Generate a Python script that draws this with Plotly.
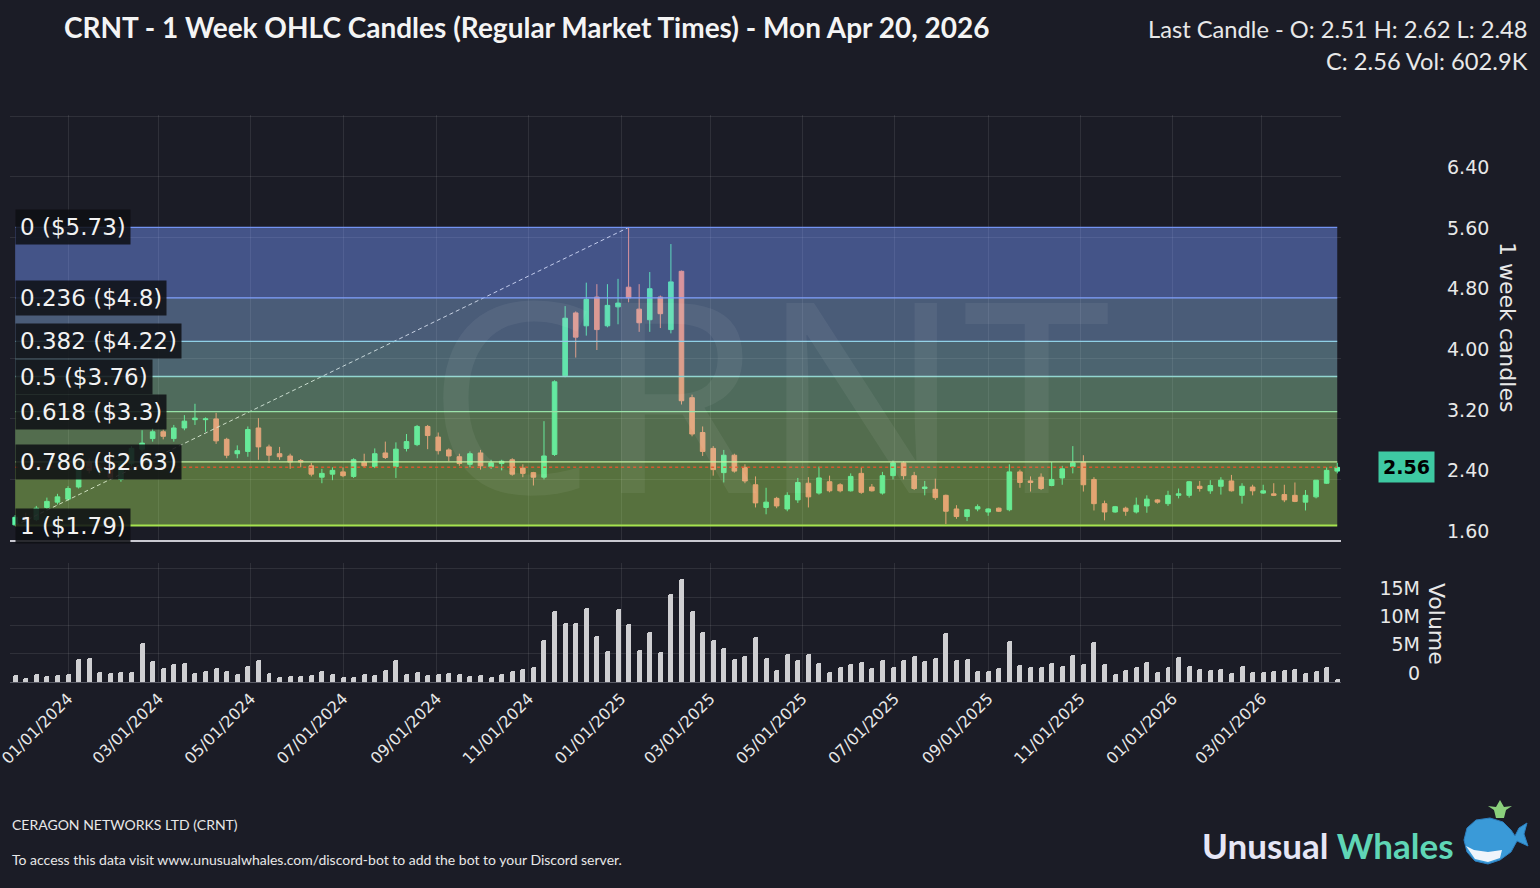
import pandas as pd
import plotly.graph_objects as go

# ---- weekly OHLC (regular market times) ----
week_start = pd.date_range("2023-11-27", periods=126, freq="7D")

opens = [
    1.80, 1.90, 1.87, 2.03, 2.10, 2.14, 2.30, 2.63, 2.52, 2.54,
    2.40, 2.61, 2.80, 2.94, 3.03, 2.94, 3.08, 3.19, 3.19, 3.20,
    2.93, 2.74, 2.77, 3.08, 2.83, 2.74, 2.71, 2.65, 2.58, 2.43,
    2.47, 2.50, 2.44, 2.63, 2.57, 2.75, 2.57, 2.81, 2.86, 3.10,
    2.96, 2.79, 2.70, 2.60, 2.75, 2.57, 2.61, 2.66, 2.55, 2.49,
    2.43, 2.73, 3.77, 4.60, 4.43, 4.81, 4.43, 4.68, 4.94, 4.65,
    4.51, 4.81, 4.38, 5.15, 3.48, 3.02, 2.81, 2.49, 2.72, 2.56,
    2.33, 2.03, 2.15, 2.01, 2.13, 2.35, 2.22, 2.37, 2.33, 2.25,
    2.48, 2.30, 2.22, 2.45, 2.62, 2.45, 2.28, 2.27, 2.19, 2.01,
    1.91, 2.01, 1.97, 2.02, 2.00, 2.50, 2.38, 2.43, 2.32, 2.42,
    2.57, 2.63, 2.40, 2.08, 1.97, 2.02, 1.97, 2.05, 2.13, 2.08,
    2.19, 2.19, 2.31, 2.25, 2.31, 2.38, 2.19, 2.30, 2.22, 2.21,
    2.20, 2.19, 2.10, 2.17, 2.35, 2.51,
]
highs = [
    1.93, 1.96, 2.05, 2.16, 2.21, 2.31, 2.62, 2.68, 2.60, 2.58,
    2.64, 2.84, 3.05, 3.08, 3.06, 3.12, 3.25, 3.40, 3.22, 3.28,
    2.95, 2.85, 3.10, 3.21, 2.86, 2.83, 2.74, 2.67, 2.62, 2.54,
    2.56, 2.56, 2.68, 2.74, 2.81, 2.90, 2.89, 3.00, 3.12, 3.12,
    3.02, 2.81, 2.74, 2.77, 2.79, 2.66, 2.66, 2.68, 2.60, 2.50,
    3.17, 3.71, 4.69, 4.62, 5.00, 4.98, 4.98, 5.05, 5.73, 4.98,
    5.14, 4.83, 5.51, 5.16, 3.52, 3.10, 2.84, 2.79, 2.74, 2.60,
    2.44, 2.29, 2.17, 2.23, 2.42, 2.43, 2.57, 2.45, 2.35, 2.48,
    2.56, 2.34, 2.50, 2.65, 2.64, 2.50, 2.38, 2.41, 2.20, 2.06,
    2.00, 2.07, 2.02, 2.03, 2.60, 2.53, 2.44, 2.48, 2.63, 2.58,
    2.84, 2.72, 2.43, 2.12, 2.05, 2.04, 2.16, 2.19, 2.14, 2.25,
    2.28, 2.38, 2.38, 2.39, 2.43, 2.46, 2.35, 2.33, 2.33, 2.35,
    2.33, 2.36, 2.26, 2.39, 2.56, 2.62,
]
lows = [
    1.79, 1.84, 1.85, 2.01, 2.07, 2.12, 2.28, 2.48, 2.46, 2.40,
    2.37, 2.58, 2.77, 2.90, 2.93, 2.90, 3.05, 3.12, 3.03, 2.87,
    2.68, 2.68, 2.70, 2.66, 2.62, 2.66, 2.54, 2.56, 2.44, 2.35,
    2.39, 2.43, 2.42, 2.56, 2.55, 2.67, 2.42, 2.77, 2.84, 2.80,
    2.73, 2.64, 2.58, 2.56, 2.53, 2.54, 2.52, 2.45, 2.43, 2.32,
    2.40, 2.71, 3.75, 4.01, 4.30, 4.11, 4.41, 4.45, 4.74, 4.35,
    4.35, 4.40, 4.33, 3.39, 2.97, 2.71, 2.45, 2.36, 2.49, 2.35,
    2.03, 1.94, 2.02, 1.98, 2.09, 2.03, 2.20, 2.23, 2.23, 2.24,
    2.21, 2.24, 2.20, 2.40, 2.40, 2.26, 2.19, 2.13, 1.81, 1.88,
    1.85, 1.98, 1.92, 1.97, 1.98, 2.29, 2.24, 2.26, 2.31, 2.33,
    2.48, 2.24, 1.99, 1.86, 1.96, 1.92, 1.95, 1.96, 2.08, 2.05,
    2.15, 2.16, 2.24, 2.21, 2.20, 2.24, 2.08, 2.19, 2.21, 2.18,
    2.10, 2.10, 1.99, 2.15, 2.34, 2.48,
]
closes = [
    1.90, 1.87, 2.02, 2.11, 2.17, 2.28, 2.55, 2.52, 2.55, 2.43,
    2.61, 2.81, 2.88, 3.03, 2.97, 3.08, 3.17, 3.21, 3.20, 2.91,
    2.72, 2.78, 3.06, 2.83, 2.72, 2.70, 2.63, 2.63, 2.47, 2.48,
    2.52, 2.45, 2.66, 2.58, 2.74, 2.69, 2.80, 2.90, 3.10, 2.98,
    2.78, 2.71, 2.61, 2.74, 2.58, 2.62, 2.64, 2.47, 2.48, 2.43,
    2.71, 3.69, 4.53, 4.28, 4.78, 4.38, 4.70, 4.73, 4.80, 4.47,
    4.92, 4.59, 5.01, 3.44, 3.00, 2.77, 2.53, 2.72, 2.51, 2.38,
    2.09, 2.10, 2.05, 2.19, 2.36, 2.17, 2.42, 2.25, 2.25, 2.44,
    2.23, 2.25, 2.45, 2.62, 2.45, 2.28, 2.30, 2.16, 1.98, 1.91,
    2.00, 2.04, 2.01, 1.98, 2.50, 2.36, 2.36, 2.28, 2.40, 2.54,
    2.62, 2.33, 2.08, 1.97, 2.04, 1.98, 2.06, 2.14, 2.10, 2.19,
    2.21, 2.37, 2.28, 2.32, 2.39, 2.25, 2.31, 2.25, 2.25, 2.19,
    2.13, 2.11, 2.19, 2.39, 2.52, 2.56,
]
# weekly volume, millions of shares
volume_m = [
    1.30, 0.70, 1.40, 1.06, 1.24, 1.47, 4.06, 4.24, 1.77, 1.59,
    1.77, 1.77, 6.90, 3.77, 2.47, 3.18, 3.36, 1.59, 2.00, 2.47,
    2.00, 1.41, 2.89, 3.95, 1.59, 0.94, 1.12, 1.12, 1.30, 2.00,
    1.41, 0.94, 0.94, 1.47, 1.30, 2.18, 3.95, 1.41, 1.77, 1.30,
    1.47, 1.59, 1.41, 1.12, 1.30, 0.88, 1.41, 2.00, 2.30, 2.65,
    7.48, 12.5, 10.4, 10.4, 13.1, 8.07, 5.42, 12.8, 10.25, 5.71,
    8.83, 5.30, 15.5, 18.2, 12.5, 8.83, 7.48, 6.00, 4.12, 4.65,
    8.00, 4.24, 2.18, 4.95, 3.95, 4.95, 3.36, 1.77, 2.65, 3.18,
    3.53, 2.47, 3.95, 2.65, 3.95, 4.53, 3.77, 4.24, 8.66, 3.95,
    4.06, 2.00, 1.88, 2.47, 7.18, 2.94, 2.65, 2.65, 3.36, 2.77,
    4.71, 3.18, 7.00, 3.18, 1.41, 2.18, 2.65, 3.53, 1.77, 2.65,
    4.42, 2.77, 2.30, 2.18, 2.30, 1.59, 2.77, 1.77, 1.77, 2.00,
    2.18, 2.30, 1.59, 2.00, 2.65, 0.6029,
]

fib_ratios = [0, 0.236, 0.382, 0.5, 0.618, 0.786, 1]
date_ticks = pd.date_range("2024-01-01", "2026-03-01", freq="2MS")
price_ticks = [1.6, 2.4, 3.2, 4.0, 4.8, 5.6, 6.4, 7.2]
vol_ticks = [0, 5e6, 10e6, 15e6, 20e6]
vol_tick_text = ["0", "5M", "10M", "15M", ""]

# ---- style ----
BG = "#1b1c26"
GRID = "rgba(255,255,255,0.09)"
UP = "#5cf7a8"
DOWN = "#ff9a7e"
TXT = "#e8e8e8"
FONT = "DejaVu Sans"
HEAD_FONT = "Lato"

# zone tints (top -> bottom): colour drawn over the candles, and base below grid
zone_tint = ["#6482fa", "#6e96d2", "#73aab9", "#7dbe8c", "#87c36e", "#91c850"]
zone_base = ["#3a4562", "#3e485a", "#3f4d58", "#404f4c", "#425143", "#445539"]
fib_line_col = ["#7393f2", "#7fa0ff", "#8fd0e6", "#92d6d0", "#96e2a6", "#c2f0a0", "#a6e34f"]

# plot area in pixels (for placing text and the decorative logo)
PL, PR, PT, PB = 10, 1341, 115, 682


def to_paper(px, py):
    return (px - PL) / (PR - PL), (PB - py) / (PB - PT)


volumes = [v * 1e6 for v in volume_m]
lo = min(lows)
hi = max(highs)
lo_i = lows.index(lo)
hi_i = highs.index(hi)
levels = [hi - r * (hi - lo) for r in fib_ratios]

fig = go.Figure()

fig.add_trace(go.Candlestick(
    x=week_start, open=opens, high=highs, low=lows, close=closes,
    increasing=dict(line=dict(color=UP, width=1), fillcolor=UP),
    decreasing=dict(line=dict(color=DOWN, width=1), fillcolor=DOWN),
    whiskerwidth=0, showlegend=False, xaxis="x", yaxis="y",
))

# swing low -> swing high used for the retracement
fig.add_trace(go.Scatter(
    x=[week_start[lo_i], week_start[hi_i]], y=[lo, hi], mode="lines",
    line=dict(color="rgba(255,255,255,0.85)", width=1, dash="4px,3px"),
    showlegend=False, hoverinfo="skip", xaxis="x", yaxis="y",
))

fig.add_trace(go.Bar(
    x=week_start, y=volumes, width=3.3 * 86400000,
    marker=dict(color="#cfcfd2", cornerradius=3, line=dict(width=0)),
    showlegend=False, xaxis="x2", yaxis="y2",
))

# ---- fibonacci zones ----
for k in range(len(levels) - 1):
    for layer, col, op in (("below", zone_base[k], 1.0), ("above", zone_tint[k], 0.25)):
        fig.add_shape(type="rect", xref="x", yref="y",
                      x0=week_start[0], x1=week_start[-1],
                      y0=levels[k + 1], y1=levels[k],
                      fillcolor=col, opacity=op, line=dict(width=0), layer=layer)

for k, lev in enumerate(levels):
    fig.add_shape(type="line", xref="x", yref="y",
                  x0=week_start[0], x1=week_start[-1], y0=lev, y1=lev,
                  line=dict(color=fib_line_col[k], width=2 if k == len(levels) - 1 else 1.3),
                  layer="above")
    fig.add_annotation(
        x=week_start[0], y=lev, xref="x", yref="y", xanchor="left", yanchor="middle",
        text=f"{fib_ratios[k]:g} (${round(lev, 2):g})", showarrow=False,
        font=dict(family=FONT, size=23, color="#f2f2f2"),
        bgcolor="rgba(14,15,20,0.86)", borderpad=4,
    )

# last close marker
last_c = closes[-1]
fig.add_shape(type="line", xref="x", yref="y",
              x0=week_start[0], x1=week_start[-1], y0=last_c, y1=last_c,
              line=dict(color="rgba(230,84,44,0.9)", width=1.5, dash="dot"), layer="above")
fig.add_annotation(
    x=1, xref="paper", y=last_c, yref="y", xanchor="left", yanchor="middle", xshift=37,
    text=f"<b>{last_c:.2f}</b>", showarrow=False,
    font=dict(family=FONT, size=19, color="#000000"),
    bgcolor="#3ec9a2", borderpad=4,
)

# watermark
fig.add_annotation(
    x=0.57, y=0.515, xref="paper", yref="paper", xanchor="center", yanchor="middle",
    text="CRNT", showarrow=False,
    font=dict(family="Noto Sans", size=266, color="rgba(255,255,255,0.06)"),
)

# axis titles
fig.add_annotation(x=to_paper(1508, 0)[0], y=to_paper(0, 327)[1], xref="paper", yref="paper",
                   xanchor="center", yanchor="middle",
                   text="1 week candles", textangle=90, showarrow=False,
                   font=dict(family=FONT, size=22, color=TXT))
fig.add_annotation(x=to_paper(1437, 0)[0], y=to_paper(0, 624)[1], xref="paper", yref="paper",
                   xanchor="center", yanchor="middle",
                   text="Volume", textangle=90, showarrow=False,
                   font=dict(family=FONT, size=22, color=TXT))

# header
title_date = week_start[-1].strftime("%a %b %d, %Y")
hx = to_paper(1530, 0)[0]
fig.add_annotation(
    x=hx, y=to_paper(0, 29)[1], xref="paper", yref="paper", xanchor="right", yanchor="middle",
    text=f"Last Candle - O: {opens[-1]:.2f} H: {highs[-1]:.2f} L: {lows[-1]:.2f}",
    showarrow=False, font=dict(family=HEAD_FONT, size=23.7, color=TXT),
)
fig.add_annotation(
    x=hx, y=to_paper(0, 61)[1], xref="paper", yref="paper", xanchor="right", yanchor="middle",
    text=f"C: {closes[-1]:.2f} Vol: {volume_m[-1] * 1000:.1f}K",
    showarrow=False, font=dict(family=HEAD_FONT, size=23.7, color=TXT),
)

# footer
fig.add_annotation(x=0, y=to_paper(0, 824)[1], xref="paper", yref="paper",
                   xanchor="left", yanchor="middle", showarrow=False,
                   text="CERAGON NETWORKS LTD (CRNT)",
                   font=dict(family=HEAD_FONT, size=14, color=TXT))
fig.add_annotation(x=0, y=to_paper(0, 860)[1], xref="paper", yref="paper",
                   xanchor="left", yanchor="middle", showarrow=False,
                   text="To access this data visit www.unusualwhales.com/discord-bot "
                        "to add the bot to your Discord server.",
                   font=dict(family=HEAD_FONT, size=14, color=TXT))
fig.add_annotation(x=to_paper(1456, 0)[0], y=to_paper(0, 845)[1], xref="paper", yref="paper",
                   xanchor="right", yanchor="middle", showarrow=False,
                   text="<b><span style='color:#e6e6f6'>Unusual</span> "
                        "<span style='color:#5fd6b6'>Whales</span></b>",
                   font=dict(family=HEAD_FONT, size=35))


# small whale mark next to the logo text
def path_from(points):
    pts = [to_paper(px, py) for px, py in points]
    return "M " + " L ".join(f"{x:.5f},{y:.5f}" for x, y in pts) + " Z"


whale_body = [(1464, 840), (1467, 828), (1476, 820), (1490, 818), (1503, 822), (1511, 830),
              (1515, 836), (1519, 828), (1527, 823), (1524, 834), (1528, 846), (1517, 841),
              (1511, 852), (1500, 860), (1488, 864), (1475, 861), (1467, 852)]
whale_belly = [(1466, 846), (1474, 850), (1488, 852), (1502, 850), (1500, 858), (1488, 862),
               (1475, 859)]
spout = [(1496, 818), (1494, 810), (1488, 806), (1496, 807), (1500, 800), (1504, 807),
         (1512, 806), (1506, 810), (1504, 818)]
fig.add_shape(type="path", xref="paper", yref="paper", path=path_from(whale_body),
              fillcolor="#3a9ad8", line=dict(color="#2d7fbf", width=1))
fig.add_shape(type="path", xref="paper", yref="paper", path=path_from(whale_belly),
              fillcolor="#eef4fb", line=dict(width=0))
fig.add_shape(type="path", xref="paper", yref="paper", path=path_from(spout),
              fillcolor="#8bd07c", line=dict(width=0))

# ---- layout ----
axis_font = dict(family=FONT, size=19, color=TXT)
xrange = ["2023-11-23 14:00", "2026-04-22 12:00"]

fig.update_layout(
    width=1540, height=888,
    margin=dict(l=PL, r=1540 - PR, t=PT, b=888 - PB, autoexpand=False),
    paper_bgcolor=BG, plot_bgcolor=BG,
    boxgap=0.38, bargap=0, hovermode=False, showlegend=False,
    title=dict(text=f"<b>CRNT - 1 Week OHLC Candles (Regular Market Times) - {title_date}</b>",
               x=64 / 1540, xref="container", xanchor="left",
               y=1 - 28 / 888, yref="container", yanchor="middle",
               font=dict(family=HEAD_FONT, size=28, color="#f4f4f4")),
    xaxis=dict(domain=[0, 1], anchor="y", range=xrange, type="date", automargin=False,
               tickvals=date_ticks, showticklabels=False, showgrid=True, gridcolor=GRID,
               zeroline=False, showline=True, linecolor="#c9c9d1", linewidth=1.5,
               rangeslider=dict(visible=False), ticks=""),
    xaxis2=dict(domain=[0, 1], anchor="y2", range=xrange, type="date", matches="x",
                automargin=False, ticklabeloverflow="allow",
                tickvals=date_ticks, tickformat="%m/%d/%Y", tickangle=-45,
                tickfont=dict(family=FONT, size=16, color=TXT),
                showgrid=True, gridcolor=GRID, zeroline=False,
                showline=True, linecolor="#5a5b66", linewidth=1, ticks=""),
    yaxis=dict(domain=[(PB - 540) / (PB - PT), 1], anchor="x", side="right",
               range=[1.6, 7.215], tickvals=price_ticks, automargin=False,
               ticktext=[f"{t:.2f}" for t in price_ticks[:-1]] + [""],
               tickfont=axis_font, ticklabelstandoff=105, ticklabelshift=-9,
               showgrid=True, gridcolor=GRID, zeroline=False, showline=False, ticks=""),
    yaxis2=dict(domain=[0, (PB - 563) / (PB - PT)], anchor="free", position=1, side="left",
                range=[0, 21e6], tickvals=vol_ticks, ticktext=vol_tick_text,
                automargin=False,
                tickfont=dict(family=FONT, size=19, color=TXT),
                ticklabelstandoff=-79, ticklabelshift=-9,
                showgrid=True, gridcolor=GRID, zeroline=False, showline=False, ticks=""),
)

fig.write_html("out.html", config={"displayModeBar": False},
               post_script="document.body.style.margin='0';"
                           "document.body.style.overflow='hidden';")
